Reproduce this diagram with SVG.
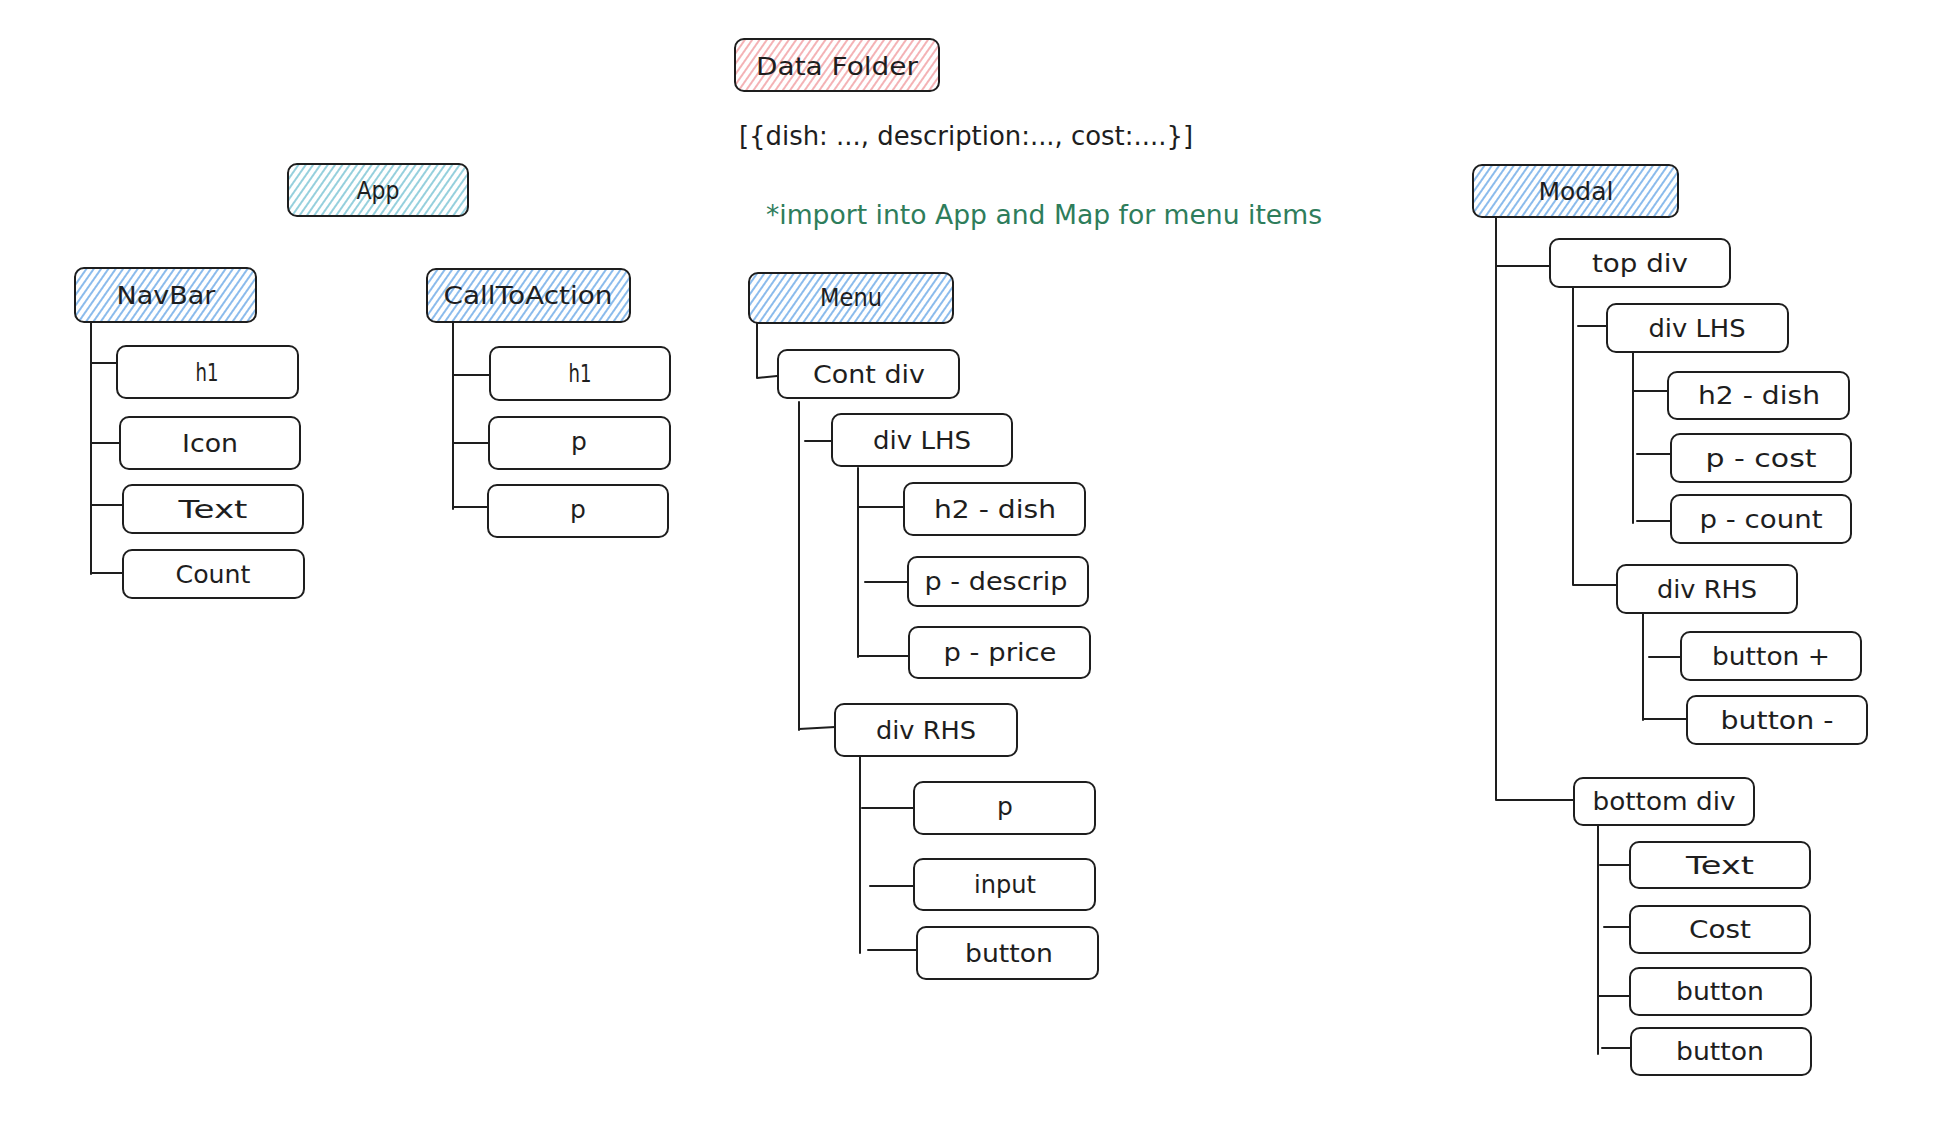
<svg xmlns="http://www.w3.org/2000/svg" width="1938" height="1128" viewBox="0 0 1938 1128">
  <defs>
    <pattern id="hatchRed" patternUnits="userSpaceOnUse" width="6" height="6" patternTransform="rotate(35)">
      <line x1="3" y1="0" x2="3" y2="6" stroke="#ec7f84" stroke-width="1.2"/>
    </pattern>
    <pattern id="hatchTeal" patternUnits="userSpaceOnUse" width="6" height="6" patternTransform="rotate(35)">
      <line x1="3" y1="0" x2="3" y2="6" stroke="#4fb0c6" stroke-width="1.2"/>
    </pattern>
    <pattern id="hatchBlue" patternUnits="userSpaceOnUse" width="6" height="6" patternTransform="rotate(35)">
      <line x1="3" y1="0" x2="3" y2="6" stroke="#3d8ee0" stroke-width="1.2"/>
    </pattern>
    <style>
      .box { fill: #ffffff; stroke: #1e1e1e; stroke-width: 2; }
      .red { fill: url(#hatchRed); }
      .teal { fill: url(#hatchTeal); }
      .blue { fill: url(#hatchBlue); }
      .lbl { font-family: "DejaVu Sans", "Liberation Sans", sans-serif; font-size: 25px; text-anchor: middle; fill: #1e1e1e; }
      .note { font-family: "DejaVu Sans", "Liberation Sans", sans-serif; font-size: 26px; fill: #1e1e1e; }
      .green { fill: #2e7d5b; }
      .wire { fill: none; stroke: #1e1e1e; stroke-width: 2; stroke-linecap: round; stroke-linejoin: round; }
    </style>
  </defs>

  <rect width="1938" height="1128" fill="#ffffff"/>

  <!-- data source -->
  <g id="data-folder">
    <rect class="box red" x="735" y="39" width="204" height="52" rx="9"/>
    <text class="lbl" x="837" y="75" textLength="162" lengthAdjust="spacingAndGlyphs">Data Folder</text>
  </g>
  <text class="note" x="739" y="145" textLength="454" lengthAdjust="spacingAndGlyphs">[{dish: ..., description:..., cost:....}]</text>
  <text class="note green" x="766" y="224" textLength="556" lengthAdjust="spacingAndGlyphs">*import into App and Map for menu items</text>

  <!-- App -->
  <g id="app">
    <rect class="box teal" x="288" y="164" width="180" height="52" rx="9"/>
    <text class="lbl" x="378" y="199" textLength="43" lengthAdjust="spacingAndGlyphs">App</text>
  </g>

  <!-- NavBar branch -->
  <g id="navbar">
    <rect class="box blue" x="75" y="268" width="181" height="54" rx="9"/>
    <text class="lbl" x="166" y="304" textLength="99" lengthAdjust="spacingAndGlyphs">NavBar</text>
  </g>
  <g id="navbar-h1">
    <rect class="box" x="117" y="346" width="181" height="52" rx="9"/>
    <text class="lbl" x="207" y="381" textLength="23" lengthAdjust="spacingAndGlyphs">h1</text>
  </g>
  <g id="navbar-icon">
    <rect class="box" x="120" y="417" width="180" height="52" rx="9"/>
    <text class="lbl" x="210" y="452" textLength="56" lengthAdjust="spacingAndGlyphs">Icon</text>
  </g>
  <g id="navbar-text">
    <rect class="box" x="123" y="485" width="180" height="48" rx="9"/>
    <text class="lbl" x="213" y="518" textLength="69" lengthAdjust="spacingAndGlyphs">Text</text>
  </g>
  <g id="navbar-count">
    <rect class="box" x="123" y="550" width="181" height="48" rx="9"/>
    <text class="lbl" x="213" y="583" textLength="75" lengthAdjust="spacingAndGlyphs">Count</text>
  </g>

  <!-- CallToAction branch -->
  <g id="calltoaction">
    <rect class="box blue" x="427" y="269" width="203" height="53" rx="9"/>
    <text class="lbl" x="528" y="304" textLength="169" lengthAdjust="spacingAndGlyphs">CallToAction</text>
  </g>
  <g id="cta-h1">
    <rect class="box" x="490" y="347" width="180" height="53" rx="9"/>
    <text class="lbl" x="580" y="382" textLength="23" lengthAdjust="spacingAndGlyphs">h1</text>
  </g>
  <g id="cta-p1">
    <rect class="box" x="489" y="417" width="181" height="52" rx="9"/>
    <text class="lbl" x="579" y="450">p</text>
  </g>
  <g id="cta-p2">
    <rect class="box" x="488" y="485" width="180" height="52" rx="9"/>
    <text class="lbl" x="578" y="518">p</text>
  </g>

  <!-- Menu branch -->
  <g id="menu">
    <rect class="box blue" x="749" y="273" width="204" height="50" rx="9"/>
    <text class="lbl" x="851" y="306" textLength="62" lengthAdjust="spacingAndGlyphs">Menu</text>
  </g>
  <g id="menu-cont-div">
    <rect class="box" x="778" y="350" width="181" height="48" rx="9"/>
    <text class="lbl" x="869" y="383" textLength="112" lengthAdjust="spacingAndGlyphs">Cont div</text>
  </g>
  <g id="menu-div-lhs">
    <rect class="box" x="832" y="414" width="180" height="52" rx="9"/>
    <text class="lbl" x="922" y="449" textLength="98" lengthAdjust="spacingAndGlyphs">div LHS</text>
  </g>
  <g id="menu-h2-dish">
    <rect class="box" x="904" y="483" width="181" height="52" rx="9"/>
    <text class="lbl" x="995" y="518" textLength="122" lengthAdjust="spacingAndGlyphs">h2 - dish</text>
  </g>
  <g id="menu-p-descrip">
    <rect class="box" x="908" y="557" width="180" height="49" rx="9"/>
    <text class="lbl" x="996" y="590" textLength="143" lengthAdjust="spacingAndGlyphs">p - descrip</text>
  </g>
  <g id="menu-p-price">
    <rect class="box" x="909" y="627" width="181" height="51" rx="9"/>
    <text class="lbl" x="1000" y="661" textLength="113" lengthAdjust="spacingAndGlyphs">p - price</text>
  </g>
  <g id="menu-div-rhs">
    <rect class="box" x="835" y="704" width="182" height="52" rx="9"/>
    <text class="lbl" x="926" y="739" textLength="100" lengthAdjust="spacingAndGlyphs">div RHS</text>
  </g>
  <g id="menu-p">
    <rect class="box" x="914" y="782" width="181" height="52" rx="9"/>
    <text class="lbl" x="1005" y="815">p</text>
  </g>
  <g id="menu-input">
    <rect class="box" x="914" y="859" width="181" height="51" rx="9"/>
    <text class="lbl" x="1005" y="893" textLength="62" lengthAdjust="spacingAndGlyphs">input</text>
  </g>
  <g id="menu-button">
    <rect class="box" x="917" y="927" width="181" height="52" rx="9"/>
    <text class="lbl" x="1009" y="962" textLength="88" lengthAdjust="spacingAndGlyphs">button</text>
  </g>

  <!-- Modal branch -->
  <g id="modal">
    <rect class="box blue" x="1473" y="165" width="205" height="52" rx="9"/>
    <text class="lbl" x="1576" y="200" textLength="75" lengthAdjust="spacingAndGlyphs">Modal</text>
  </g>
  <g id="modal-top-div">
    <rect class="box" x="1550" y="239" width="180" height="48" rx="9"/>
    <text class="lbl" x="1640" y="272" textLength="96" lengthAdjust="spacingAndGlyphs">top div</text>
  </g>
  <g id="modal-div-lhs">
    <rect class="box" x="1607" y="304" width="181" height="48" rx="9"/>
    <text class="lbl" x="1697" y="337" textLength="97" lengthAdjust="spacingAndGlyphs">div LHS</text>
  </g>
  <g id="modal-h2-dish">
    <rect class="box" x="1668" y="372" width="181" height="47" rx="9"/>
    <text class="lbl" x="1759" y="404" textLength="122" lengthAdjust="spacingAndGlyphs">h2 - dish</text>
  </g>
  <g id="modal-p-cost">
    <rect class="box" x="1671" y="434" width="180" height="48" rx="9"/>
    <text class="lbl" x="1761" y="467" textLength="111" lengthAdjust="spacingAndGlyphs">p - cost</text>
  </g>
  <g id="modal-p-count">
    <rect class="box" x="1671" y="495" width="180" height="48" rx="9"/>
    <text class="lbl" x="1761" y="528" textLength="123" lengthAdjust="spacingAndGlyphs">p - count</text>
  </g>
  <g id="modal-div-rhs">
    <rect class="box" x="1617" y="565" width="180" height="48" rx="9"/>
    <text class="lbl" x="1707" y="598" textLength="100" lengthAdjust="spacingAndGlyphs">div RHS</text>
  </g>
  <g id="modal-button-plus">
    <rect class="box" x="1681" y="632" width="180" height="48" rx="9"/>
    <text class="lbl" x="1771" y="665" textLength="118" lengthAdjust="spacingAndGlyphs">button +</text>
  </g>
  <g id="modal-button-minus">
    <rect class="box" x="1687" y="696" width="180" height="48" rx="9"/>
    <text class="lbl" x="1777" y="729" textLength="113" lengthAdjust="spacingAndGlyphs">button -</text>
  </g>
  <g id="modal-bottom-div">
    <rect class="box" x="1574" y="778" width="180" height="47" rx="9"/>
    <text class="lbl" x="1664" y="810" textLength="143" lengthAdjust="spacingAndGlyphs">bottom div</text>
  </g>
  <g id="modal-text">
    <rect class="box" x="1630" y="842" width="180" height="46" rx="9"/>
    <text class="lbl" x="1720" y="874" textLength="68" lengthAdjust="spacingAndGlyphs">Text</text>
  </g>
  <g id="modal-cost">
    <rect class="box" x="1630" y="906" width="180" height="47" rx="9"/>
    <text class="lbl" x="1720" y="938" textLength="62" lengthAdjust="spacingAndGlyphs">Cost</text>
  </g>
  <g id="modal-button-1">
    <rect class="box" x="1630" y="968" width="181" height="47" rx="9"/>
    <text class="lbl" x="1720" y="1000" textLength="88" lengthAdjust="spacingAndGlyphs">button</text>
  </g>
  <g id="modal-button-2">
    <rect class="box" x="1631" y="1028" width="180" height="47" rx="9"/>
    <text class="lbl" x="1720" y="1060" textLength="88" lengthAdjust="spacingAndGlyphs">button</text>
  </g>

  <!-- tree connectors: one trunk per parent, with stubs to each child -->
  <g id="connectors" class="wire">
    <path d="M91 322 V574 M91 363 H117 M91 443 H120 M91 505 H123 M91 573 H123"/>
    <path d="M453 322 V509 M453 375 H490 M453 443 H489 M453 507 H488"/>
    <path d="M757 323 V378 L777 376"/>
    <path d="M799 402 V730 M805 441 H832 M799 729 L835 727"/>
    <path d="M858 468 V657 M858 507 H904 M865 582 H908 M858 656 H909"/>
    <path d="M860 756 V953 M862 808 H914 M870 886 H914 M868 950 H917"/>
    <path d="M1496 217 V800 M1496 266 H1550 M1496 800 H1574"/>
    <path d="M1573 287 V585 M1578 326 H1607 M1573 585 H1617"/>
    <path d="M1633 352 V523 M1633 391 H1668 M1637 454 H1671 M1637 521 H1671"/>
    <path d="M1643 613 V720 M1649 657 H1681 M1643 719 H1687"/>
    <path d="M1598 825 V1054 M1600 865 H1630 M1604 927 H1630 M1598 996 H1630 M1602 1048 H1631"/>
  </g>
</svg>
